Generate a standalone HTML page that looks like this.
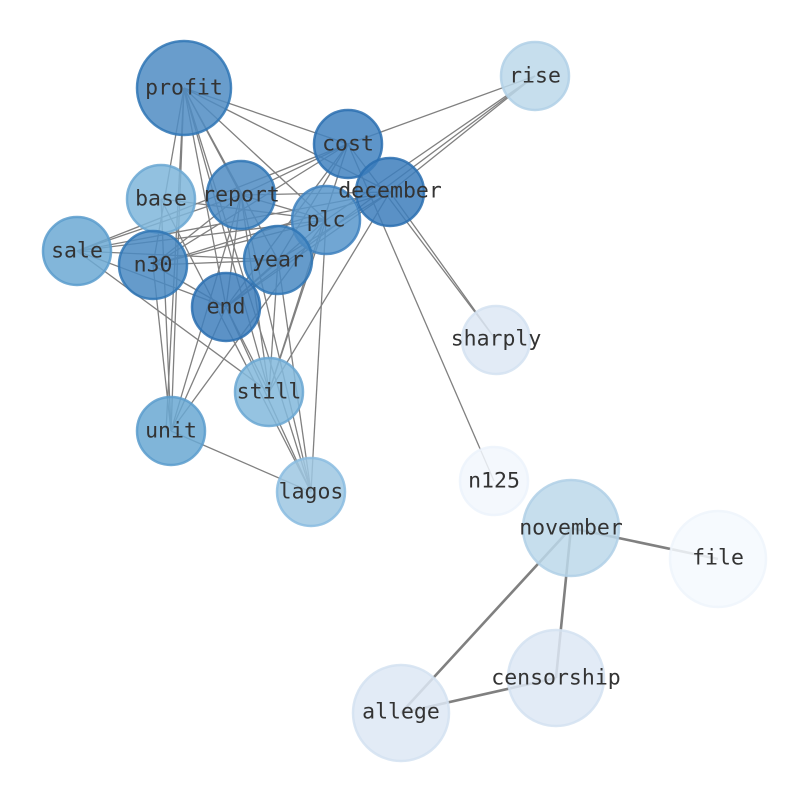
<!DOCTYPE html>
<html><head><meta charset="utf-8"><style>body{margin:0;background:#fff}</style></head><body>
<svg width="794" height="790" xmlns="http://www.w3.org/2000/svg">
<g stroke="#808080" stroke-width="1.3" fill="none">
<line x1="184" y1="88" x2="348" y2="144"/><line x1="184" y1="88" x2="390" y2="192"/><line x1="184" y1="88" x2="326" y2="220"/>
<line x1="184" y1="88" x2="241" y2="195"/><line x1="184" y1="88" x2="278" y2="260"/><line x1="184" y1="88" x2="226" y2="307"/>
<line x1="184" y1="88" x2="171" y2="431"/><line x1="184" y1="88" x2="269" y2="392"/><line x1="184" y1="88" x2="311" y2="492"/>
<line x1="184" y1="88" x2="153" y2="265"/><line x1="184" y1="88" x2="166" y2="431"/>
<line x1="348" y1="144" x2="535" y2="76"/><line x1="390" y1="192" x2="535" y2="76"/><line x1="326" y1="220" x2="535" y2="76"/><line x1="226" y1="307" x2="535" y2="76"/>
<line x1="348" y1="144" x2="496" y2="340"/><line x1="390" y1="192" x2="496" y2="340"/><line x1="348" y1="144" x2="494" y2="481"/>
<line x1="348" y1="144" x2="153" y2="265"/><line x1="348" y1="144" x2="77" y2="251"/><line x1="348" y1="144" x2="226" y2="307"/>
<line x1="348" y1="144" x2="278" y2="260"/><line x1="348" y1="144" x2="269" y2="392"/><line x1="348" y1="144" x2="241" y2="195"/>
<line x1="390" y1="192" x2="241" y2="195"/><line x1="390" y1="192" x2="153" y2="265"/><line x1="390" y1="192" x2="226" y2="307"/>
<line x1="390" y1="192" x2="278" y2="260"/><line x1="390" y1="192" x2="269" y2="392"/><line x1="390" y1="192" x2="77" y2="251"/>
<line x1="241" y1="195" x2="77" y2="251"/><line x1="241" y1="195" x2="153" y2="265"/><line x1="241" y1="195" x2="226" y2="307"/>
<line x1="241" y1="195" x2="326" y2="220"/><line x1="241" y1="195" x2="171" y2="431"/><line x1="241" y1="195" x2="311" y2="492"/>
<line x1="241" y1="195" x2="269" y2="392"/><line x1="161" y1="199" x2="326" y2="220"/><line x1="161" y1="199" x2="311" y2="492"/>
<line x1="161" y1="199" x2="171" y2="431"/><line x1="326" y1="220" x2="77" y2="251"/><line x1="326" y1="220" x2="153" y2="265"/>
<line x1="326" y1="220" x2="226" y2="307"/><line x1="326" y1="220" x2="311" y2="492"/><line x1="326" y1="220" x2="269" y2="392"/>
<line x1="77" y1="251" x2="278" y2="260"/><line x1="77" y1="251" x2="226" y2="307"/><line x1="77" y1="251" x2="269" y2="392"/>
<line x1="153" y1="265" x2="278" y2="260"/><line x1="153" y1="265" x2="226" y2="307"/><line x1="153" y1="265" x2="171" y2="431"/>
<line x1="278" y1="260" x2="226" y2="307"/><line x1="278" y1="260" x2="269" y2="392"/><line x1="278" y1="260" x2="311" y2="492"/>
<line x1="226" y1="307" x2="171" y2="431"/><line x1="226" y1="307" x2="311" y2="492"/><line x1="226" y1="307" x2="269" y2="392"/>
<line x1="326" y1="220" x2="171" y2="431"/><line x1="171" y1="431" x2="311" y2="492"/>
</g>
<g stroke="#808080" stroke-width="2.6">
<line x1="571" y1="528" x2="718" y2="559"/><line x1="571" y1="528" x2="556" y2="678"/><line x1="571" y1="528" x2="401" y2="713"/><line x1="401" y1="713" x2="556" y2="678"/>
</g>
<g stroke-width="2.5" fill-opacity="0.85" stroke-opacity="0.85">
<circle cx="184" cy="88" r="47" fill="#4f8cc3" stroke="#2f75b5"/>
<circle cx="161" cy="199" r="34" fill="#7fb6da" stroke="#6aa7d2"/>
<circle cx="77" cy="251" r="34" fill="#6ca9d3" stroke="#5a9ccd"/>
<circle cx="241" cy="195" r="34" fill="#4f8cc3" stroke="#2f75b5"/>
<circle cx="348" cy="144" r="34" fill="#4282bf" stroke="#2a6fb0"/>
<circle cx="326" cy="220" r="34" fill="#5896cb" stroke="#3d80bd"/>
<circle cx="390" cy="192" r="34" fill="#3d7ebc" stroke="#2a6fb0"/>
<circle cx="153" cy="265" r="34" fill="#4a89c2" stroke="#2f75b5"/>
<circle cx="278" cy="260" r="34" fill="#4a89c2" stroke="#2f75b5"/>
<circle cx="226" cy="307" r="34" fill="#3f7fbc" stroke="#2a6fb0"/>
<circle cx="269" cy="392" r="34" fill="#82b9dc" stroke="#6aa7d2"/>
<circle cx="171" cy="431" r="34" fill="#6aa8d2" stroke="#5a9ccd"/>
<circle cx="311" cy="492" r="34" fill="#9dc7e2" stroke="#8abce0"/>
<circle cx="535" cy="76" r="34" fill="#bcd8ea" stroke="#b0d0e6"/>
<circle cx="496" cy="340" r="34" fill="#dde8f5" stroke="#d4e2f1"/>
<circle cx="494" cy="481" r="34" fill="#f2f7fd" stroke="#ecf3fb"/>
<circle cx="571" cy="528" r="48" fill="#bcd8ea" stroke="#b0d0e6"/>
<circle cx="718" cy="559" r="48" fill="#f4f9fe" stroke="#eef5fc"/>
<circle cx="556" cy="678" r="48" fill="#dde8f5" stroke="#d4e2f1"/>
<circle cx="401" cy="713" r="48" fill="#dde8f5" stroke="#d4e2f1"/>
</g>
<g font-family="DejaVu Sans Mono, Liberation Mono, monospace" font-size="21.5" fill="#333" text-anchor="middle" dominant-baseline="central">
<text x="184" y="88">profit</text><text x="161" y="199">base</text><text x="77" y="251">sale</text>
<text x="241" y="195">report</text><text x="348" y="144">cost</text><text x="326" y="220">plc</text>
<text x="390" y="191">december</text><text x="153" y="265">n30</text><text x="278" y="260">year</text>
<text x="226" y="307">end</text><text x="269" y="392">still</text><text x="171" y="431">unit</text>
<text x="311" y="492">lagos</text><text x="535" y="76">rise</text><text x="496" y="339">sharply</text>
<text x="494" y="481">n125</text><text x="571" y="528">november</text><text x="718" y="558">file</text>
<text x="556" y="678">censorship</text><text x="401" y="712">allege</text>
</g>
</svg>
</body></html>
